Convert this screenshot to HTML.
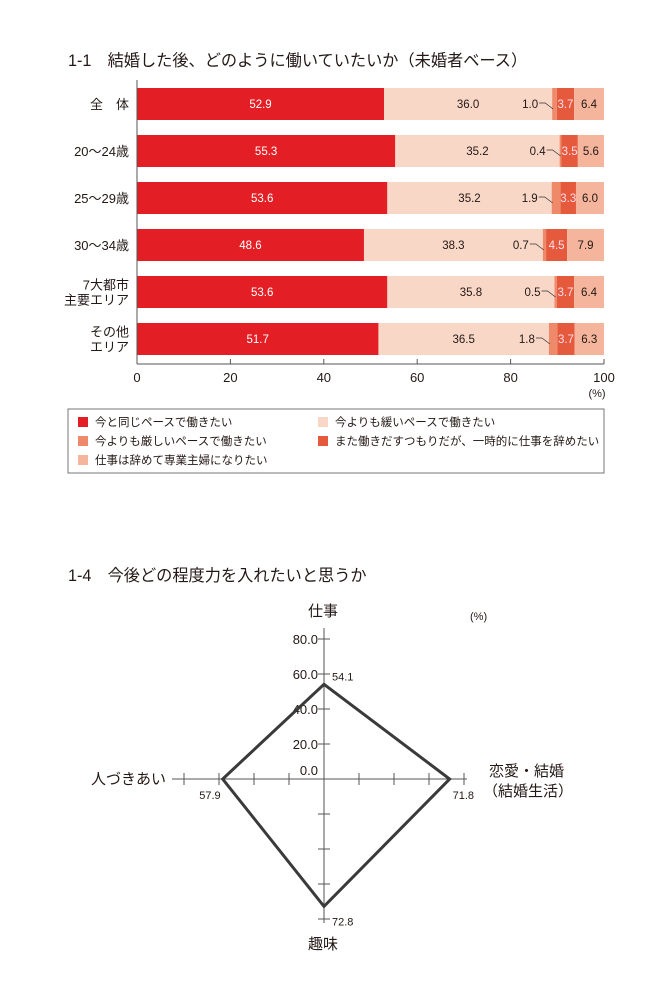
<!DOCTYPE html>
<html><head><meta charset="utf-8"><style>
body{margin:0;background:#fff;}
svg text{font-family:"Liberation Sans","Noto Sans CJK JP",sans-serif;}
</style></head><body>
<svg width="670" height="1000" viewBox="0 0 670 1000">
<text x="68" y="66" font-size="16.2" fill="#231815">1-1　結婚した後、どのように働いていたいか（未婚者ベース）</text>
<g id="bars"></g>
<g>
<rect x="68" y="409" width="536" height="64" fill="none" stroke="#555" stroke-width="0.8"/>
<rect x="78" y="417" width="10" height="10" fill="#e31e24"/><text x="95" y="426" font-size="11.5" fill="#231815">今と同じペースで働きたい</text>
<rect x="318" y="417" width="10" height="10" fill="#f9d7c7"/><text x="335" y="426" font-size="11.5" fill="#231815">今よりも緩いペースで働きたい</text>
<rect x="78" y="436" width="10" height="10" fill="#ee8a6a"/><text x="95" y="445" font-size="11.5" fill="#231815">今よりも厳しいペースで働きたい</text>
<rect x="318" y="436" width="10" height="10" fill="#e55a3c"/><text x="335" y="445" font-size="11.5" fill="#231815">また働きだすつもりだが、一時的に仕事を辞めたい</text>
<rect x="78" y="455" width="10" height="10" fill="#f4b59c"/><text x="95" y="464" font-size="11.5" fill="#231815">仕事は辞めて専業主婦になりたい</text>
</g>
<text x="68" y="581" font-size="16.2" fill="#231815">1-4　今後どの程度力を入れたいと思うか</text>
<g id="radar"></g>
</svg>
<script>
const rows = ["全　体","20〜24歳","25〜29歳","30〜34歳","7大都市\n主要エリア","その他\nエリア"];
const sameV = [52.9,55.3,53.6,48.6,53.6,51.7];
const looseV = [36.0,35.2,35.2,38.3,35.8,36.5];
const hardV = [1.0,0.4,1.9,0.7,0.5,1.8];
const pauseV = [3.7,3.5,3.3,4.5,3.7,3.7];
const quitV = [6.4,5.6,6.0,7.9,6.4,6.3];
const xTicks = [0,20,40,60,80,100];
const radarCats = ["仕事","恋愛・結婚","趣味","人づきあい"];
const radarVals = [54.1,71.8,72.8,57.9];
const radarTicks = ["0.0","20.0","40.0","60.0","80.0"];

const NS="http://www.w3.org/2000/svg";
function mk(p,t,a,txt){const e=document.createElementNS(NS,t);for(const k in a)e.setAttribute(k,a[k]);if(txt!==undefined)e.textContent=txt;p.appendChild(e);return e;}
const bx=v=>137+v*4.67;
const rowY=i=>88+i*47;
const g=document.getElementById('bars');
const series=[sameV,looseV,hardV,pauseV,quitV];
const cols=["#e31e24","#f9d7c7","#ee8a6a","#e55a3c","#f4b59c"];
const names=["bar-same-pace","bar-looser-pace","bar-harder-pace","bar-temporary-quit","bar-housewife"];
rows.forEach((r,i)=>{
  let acc=0;const y=rowY(i);
  series.forEach((s,k)=>{
    const v=s[i];
    const el=mk(g,'rect',{x:bx(acc),y:y,width:bx(acc+v)-bx(acc),height:32,fill:cols[k]});
    
    
    const mid=(bx(acc)+bx(acc+v))/2;
    if(k===0) mk(g,'text',{x:mid,y:y+20,'font-size':11.5,fill:'#fff','text-anchor':'middle'},v.toFixed(1));
    else if(k===1) mk(g,'text',{x:mid,y:y+20,'font-size':11.5,fill:'#231815','text-anchor':'middle'},v.toFixed(1));
    else if(k===2){
      mk(g,'text',{x:bx(acc)-14,y:y+20,'font-size':11.5,fill:'#231815','text-anchor':'end'},v.toFixed(1));
      mk(g,'path',{d:`M${bx(acc)-13} ${y+15} L${bx(acc)-7} ${y+15} L${bx(acc)+1} ${y+21}`,stroke:'#333','stroke-width':0.7,fill:'none'});
    }
    else if(k===3) mk(g,'text',{x:mid,y:y+20,'font-size':11.5,fill:'#fde','text-anchor':'middle'},v.toFixed(1));
    else mk(g,'text',{x:mid,y:y+20,'font-size':11.5,fill:'#231815','text-anchor':'middle'},v.toFixed(1));
    acc+=v;
  });
  const parts=r.split('\n');
  parts.forEach((p,j)=>{
    const t=mk(g,'text',{x:129,y:y+21+(j-(parts.length-1)/2)*15,'font-size':13,fill:'#231815','text-anchor':'end'},p);
    
    
  });
});
mk(g,'line',{x1:137,y1:80,x2:137,y2:364,stroke:'#555','stroke-width':1});
mk(g,'line',{x1:137,y1:364,x2:604,y2:364,stroke:'#555','stroke-width':1});
xTicks.forEach(t=>{
  mk(g,'line',{x1:bx(t),y1:364,x2:bx(t),y2:359,stroke:'#555','stroke-width':1});
  const e=mk(g,'text',{x:bx(t),y:382,'font-size':13,fill:'#231815','text-anchor':'middle'},String(t));
  
  
});
mk(g,'text',{x:597,y:397,'font-size':11,fill:'#231815','text-anchor':'middle'},'(%)');

// radar
const R=document.getElementById('radar');
const cx=324,cy=779,sc=1.75;
const ang=[-90,0,90,180];
const pt=(k,v)=>[cx+Math.cos(ang[k]*Math.PI/180)*v*sc,cy+Math.sin(ang[k]*Math.PI/180)*v*sc];
mk(R,'line',{x1:cx,y1:628,x2:cx,y2:923,stroke:'#555','stroke-width':1});
mk(R,'line',{x1:172,y1:cy,x2:467,y2:cy,stroke:'#555','stroke-width':1});
[20,40,60,80].forEach(v=>{
  [0,1,2,3].forEach(k=>{
    const [x,y]=pt(k,v);
    if(k%2===0) mk(R,'line',{x1:x-6,y1:y,x2:x+6,y2:y,stroke:'#555','stroke-width':1});
    else mk(R,'line',{x1:x,y1:y-6,x2:x,y2:y+6,stroke:'#555','stroke-width':1});
  });
});
radarTicks.forEach((t,i)=>{
  const v=i*20;
  const e=mk(R,'text',{x:cx-6,y:cy-v*sc+(i===0?-4:5),'font-size':13,fill:'#231815','text-anchor':'end'},t);
  
  
});
const pts=radarVals.map((v,k)=>pt(k,v).join(',')).join(' ');
const poly=mk(R,'polygon',{points:pts,fill:'none',stroke:'#3a3a3a','stroke-width':3,'stroke-linejoin':'miter'});


const off=[[8,-4,'start'],[3,20,'start'],[8,19,'start'],[-2,20,'end']];
radarVals.forEach((v,k)=>{
  const [x,y]=pt(k,v);
  mk(R,'text',{x:x+off[k][0],y:y+off[k][1],'font-size':11,fill:'#231815','text-anchor':off[k][2]},v.toFixed(1));
});
mk(R,'text',{x:323,y:616,'font-size':15,fill:'#231815','text-anchor':'middle'},radarCats[0]);
mk(R,'text',{x:323,y:949,'font-size':15,fill:'#231815','text-anchor':'middle'},radarCats[2]);
mk(R,'text',{x:166,y:784,'font-size':15,fill:'#231815','text-anchor':'end'},radarCats[3]);
mk(R,'text',{x:489,y:776,'font-size':15,fill:'#231815'},radarCats[1]);
mk(R,'text',{x:483,y:796,'font-size':15,fill:'#231815'},'（結婚生活）');
mk(R,'text',{x:470,y:620,'font-size':11,fill:'#231815'},'(%)');
</script>
</body></html>
